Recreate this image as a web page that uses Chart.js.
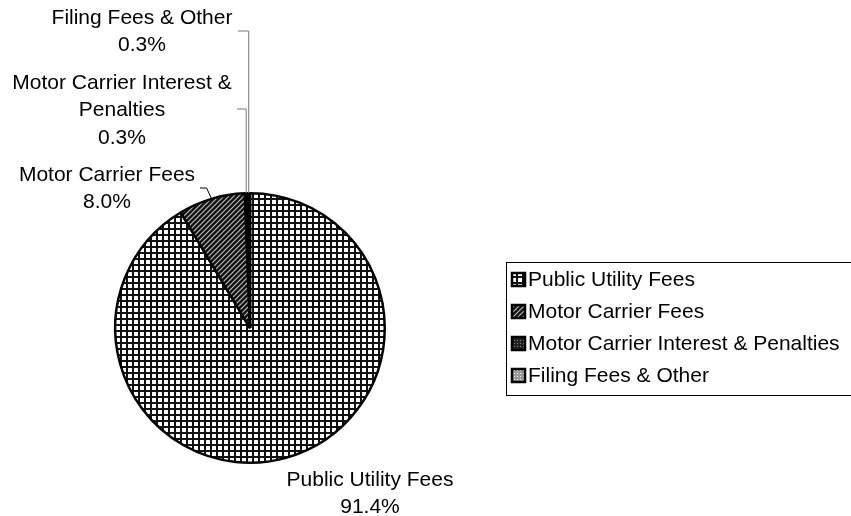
<!DOCTYPE html>
<html>
<head>
<meta charset="utf-8">
<script src="https://cdn.jsdelivr.net/npm/chart.js@4.4.1/dist/chart.umd.min.js"></script>
<style>
  html, body { margin: 0; padding: 0; background: #fff; }
  canvas { display: block; }
</style>
</head>
<body>
<canvas id="revenue" width="851" height="516"></canvas>
<script>
const categories = ['Public Utility Fees', 'Motor Carrier Fees', 'Motor Carrier Interest & Penalties', 'Filing Fees & Other'];
const shares = [91.4, 8.0, 0.3, 0.3];
// how the slice labels wrap next to the pie
const sliceLabelLines = [['Public Utility Fees'], ['Motor Carrier Fees'], ['Motor Carrier Interest &', 'Penalties'], ['Filing Fees & Other']];

const FONT = '21px "Liberation Sans", Arial, sans-serif';

const canvas = document.getElementById('revenue');
const ctx = canvas.getContext('2d');

function makeTile(size, draw) {
    const c = document.createElement('canvas');
    c.width = size; c.height = size;
    const g = c.getContext('2d');
    draw(g, size);
    return ctx.createPattern(c, 'repeat');
}

// grid (public utility), diagonal hatch (motor carrier), dark and light stipple for the small ones
const patterns = [
    makeTile(6, (g, s) => {
        g.fillStyle = '#fff'; g.fillRect(0, 0, s, s);
        g.fillStyle = '#111'; g.fillRect(0, 0, s, 2); g.fillRect(0, 0, 2, s);
    }),
    makeTile(5, (g, s) => {
        g.fillStyle = '#111'; g.fillRect(0, 0, s, s);
        g.strokeStyle = '#bbb'; g.lineWidth = 1.2;
        g.beginPath();
        g.moveTo(0, s); g.lineTo(s, 0);
        g.moveTo(-s / 2, s / 2); g.lineTo(s / 2, -s / 2);
        g.moveTo(s / 2, s * 1.5); g.lineTo(s * 1.5, s / 2);
        g.stroke();
    }),
    makeTile(3, (g, s) => {
        g.fillStyle = '#222'; g.fillRect(0, 0, s, s);
        g.fillStyle = '#888'; g.fillRect(1, 1, 1, 1);
    }),
    makeTile(3, (g, s) => {
        g.fillStyle = '#999'; g.fillRect(0, 0, s, s);
        g.fillStyle = '#eee'; g.fillRect(1, 1, 1, 1);
    })
];

// where each slice's label sits: text centre x, first line y, and the elbow of its leader line
const labelPlacement = [
    { x: 370, y: 480, leader: null },
    { x: 107, y: 175, leader: { y: 188, x: 200 } },
    { x: 122, y: 83, leader: { y: 109, x: 237 } },
    { x: 142, y: 18, leader: { y: 31, x: 238 } }
];
const LINE_H = 27.5;

const pieLabels = {
    id: 'pieLabels',
    afterDraw(chart) {
        const c = chart.ctx;
        const arcs = chart.getDatasetMeta(0).data;
        c.save();
        c.font = FONT;
        c.fillStyle = '#000';
        c.textAlign = 'center';
        c.textBaseline = 'middle';
        arcs.forEach((arc, i) => {
            const p = labelPlacement[i];
            const lines = sliceLabelLines[i].concat([shares[i].toFixed(1) + '%']);
            lines.forEach((t, k) => c.fillText(t, p.x, p.y + k * LINE_H));
            if (p.leader) {
                const mid = (arc.startAngle + arc.endAngle) / 2;
                const ox = arc.x + Math.cos(mid) * arc.outerRadius;
                const oy = arc.y + Math.sin(mid) * arc.outerRadius;
                c.strokeStyle = i === 1 ? '#000' : '#777';
                c.lineWidth = 1;
                c.beginPath();
                c.moveTo(ox, oy);
                if (i === 1) {
                    c.lineTo(ox - 5, p.leader.y);
                } else {
                    c.lineTo(ox, p.leader.y);
                }
                c.lineTo(p.leader.x, p.leader.y);
                c.stroke();
            }
        });

        // legend box, drawn from the same categories and patterns
        c.strokeStyle = '#000';
        c.lineWidth = 1;
        c.strokeRect(506.5, 262.5, 400, 133);
        c.textAlign = 'left';
        categories.forEach((name, i) => {
            const y = 279 + i * 32;
            c.fillStyle = patterns[i];
            c.fillRect(512, y - 6, 13, 13);
            c.lineWidth = 2.5;
            c.strokeRect(512, y - 6, 13, 13);
            c.fillStyle = '#000';
            c.fillText(name, 528, y + 1);
        });
        c.restore();
    }
};

new Chart(ctx, {
    type: 'pie',
    data: {
        labels: categories,
        datasets: [{
            data: shares,
            backgroundColor: patterns,
            borderColor: '#000',
            borderWidth: 2.5
        }]
    },
    options: {
        responsive: false,
        animation: false,
        events: [],
        layout: { padding: { left: 114, right: 465, top: 192, bottom: 52 } },
        plugins: {
            legend: { display: false },
            tooltip: { enabled: false }
        }
    },
    plugins: [pieLabels]
});
</script>
</body>
</html>
